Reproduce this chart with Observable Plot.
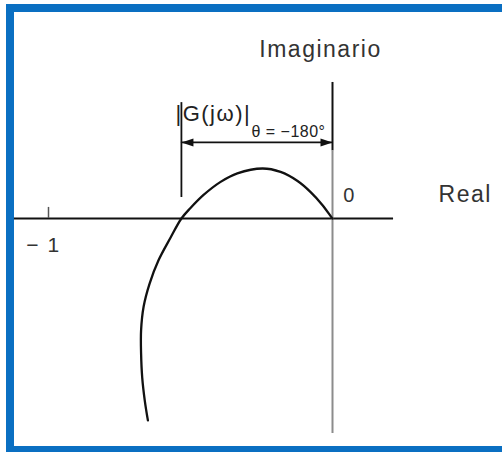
<!DOCTYPE html>
<html>
<head>
<meta charset="utf-8">
<script src="https://cdn.jsdelivr.net/npm/d3@7"></script>
<script src="https://cdn.jsdelivr.net/npm/@observablehq/plot@0.6"></script>
<style>
  html, body { margin: 0; padding: 0; background: #fff; overflow: hidden; }
  #wrap { position: relative; width: 502px; height: 452px; overflow: hidden; }
  #frame { position: absolute; left: 6px; top: 4px; width: 600px; height: 434px;
           border: 8px solid #0a6fc2; border-right: none; }
  #chart { position: absolute; left: 0; top: 0; }
</style>
</head>
<body>
<div id="wrap"><div id="frame"></div><div id="chart"></div></div>
<script>
// Nyquist locus of G(jω): real and imaginary parts along increasing ω
const reVals = [-0.650, -0.661, -0.670, -0.674, -0.674, -0.665, -0.644, -0.613, -0.570, -0.532,
                -0.500, -0.454, -0.394, -0.335, -0.246, -0.183, -0.123, -0.077, -0.035, -0.004, 0];
const imVals = [-0.711, -0.641, -0.560, -0.475, -0.394, -0.310, -0.229, -0.148, -0.067, 0,
                 0.037, 0.083, 0.129, 0.159, 0.176, 0.164, 0.132, 0.093, 0.047, 0.005, 0];

// Axis extents and tick
const realAxis = [-1.12, 0.215];
const imagAxis = [-0.757, 0.479];
const ticks = [-1];
const tickLabels = ["− 1"];
const axisLabels = ["Real", "Imaginario"];
const originLabel = ["0"];

// Gain-margin dimension: from the −180° crossing to the origin
const crossing = reVals[imVals.indexOf(0)];
const marginLevel = 0.268;
const guideExtent = [0.074, 0.408];
const marginLabel = ["|G(jω)|"];
const marginSub = ["θ = −180°"];

const curve = reVals.map((re, i) => ({re, im: imVals[i]}));

// slender filled arrowheads, tip at the anchor point
const headRight = {draw(ctx) { ctx.moveTo(0, 0); ctx.lineTo(-12, -4); ctx.lineTo(-12, 4); ctx.closePath(); }};
const headLeft = {draw(ctx) { ctx.moveTo(0, 0); ctx.lineTo(12, -4); ctx.lineTo(12, 4); ctx.closePath(); }};

const font = "'Liberation Sans', Arial, Helvetica, sans-serif";
const ink = "#111";

const chart = Plot.plot({
  width: 502,
  height: 452,
  margin: 0,
  x: {domain: [-1, 0], range: [48, 332], axis: null},
  y: {domain: [0, 1], range: [218, -66], axis: null},
  style: {background: "transparent", fontFamily: font, color: "#1c1c1c"},
  marks: [
    // real axis
    Plot.ruleY([0], {x1: realAxis[0], x2: realAxis[1], stroke: ink, strokeWidth: 1.8}),
    // imaginary axis (upper part dark, lower part lighter)
    Plot.ruleX([0], {y1: marginLevel - 0.03, y2: imagAxis[1], stroke: ink, strokeWidth: 2}),
    Plot.ruleX([0], {y1: imagAxis[0], y2: marginLevel - 0.03, stroke: "#8c8c8c", strokeWidth: 2}),
    // tick at −1
    Plot.ruleX(ticks, {y1: 0, y2: 0.039, stroke: "#555", strokeWidth: 1.5}),
    Plot.text(ticks, {x: d => d, y: 0, text: (d, i) => tickLabels[i], dx: -5, dy: 27, fontSize: 21, fill: "#333"}),
    // origin and axis names
    Plot.text(originLabel, {x: 0, y: 0, text: d => d, dx: 17, dy: -23, fontSize: 20, fill: "#333"}),
    Plot.text([axisLabels[0]], {x: realAxis[1], y: 0, text: d => d, textAnchor: "start", dx: 45, dy: -24, fontSize: 23, fill: "#333"}),
    Plot.text([axisLabels[1]], {x: 0, y: imagAxis[1], text: d => d, dx: -12, dy: -33, fontSize: 23, fill: "#333"}),
    // Nyquist curve
    Plot.line(curve, {x: "re", y: "im", curve: "catmull-rom", stroke: ink, strokeWidth: 2.3}),
    // gain-margin dimension line
    Plot.ruleX([crossing], {y1: guideExtent[0], y2: guideExtent[1], stroke: ink, strokeWidth: 1.8}),
    Plot.ruleY([marginLevel], {x1: crossing, x2: 0, stroke: ink, strokeWidth: 1.6}),
    Plot.dot([crossing], {x: d => d, y: marginLevel, symbol: headLeft, fill: ink, stroke: "none"}),
    Plot.dot([0], {x: d => d, y: marginLevel, symbol: headRight, fill: ink, stroke: "none"}),
    Plot.text(marginLabel, {x: crossing, y: marginLevel, text: d => d, textAnchor: "start", dx: -6, dy: -28, fontSize: 22, fill: "#222"}),
    Plot.text(marginSub, {x: crossing, y: marginLevel, text: d => d, textAnchor: "start", dx: 70, dy: -11, fontSize: 16, fill: "#222"})
  ]
});

// the labels are set a little loose, like the rest of the lettering
chart.querySelectorAll("text").forEach(t => {
  t.setAttribute("letter-spacing", t.textContent === marginSub[0] ? "0.5" : "1.5");
});
document.getElementById("chart").append(chart);
</script>
</body>
</html>
